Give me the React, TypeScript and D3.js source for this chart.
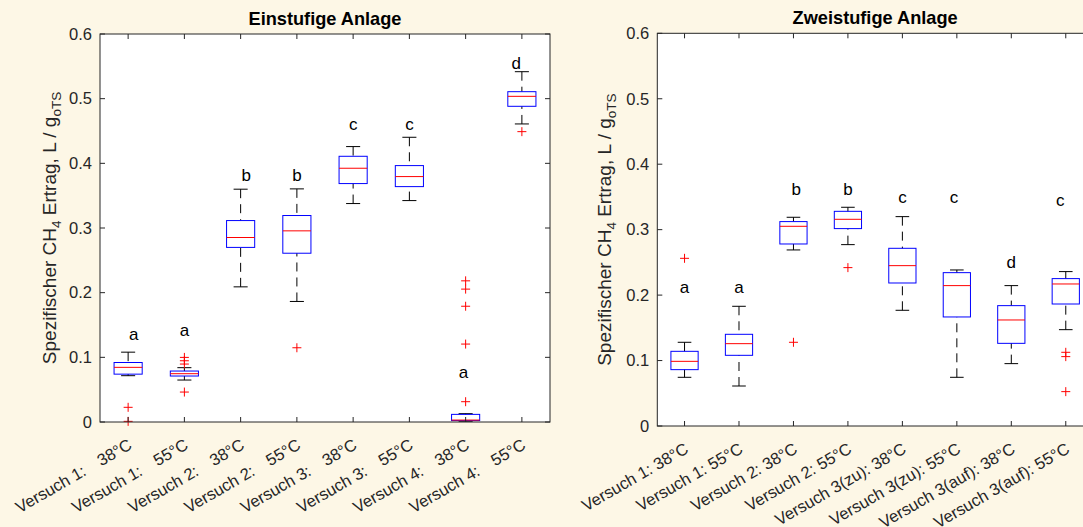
import React from "react";
import * as d3 from "d3";

// ---------- data ----------
const leftNames = ["Versuch 1:", "Versuch 1:", "Versuch 2:", "Versuch 2:", "Versuch 3:", "Versuch 3:", "Versuch 4:", "Versuch 4:"];
const leftTemps = ["38°C", "55°C", "38°C", "55°C", "38°C", "55°C", "38°C", "55°C"];
const leftLowerWhisker = [0.0716, 0.0649, 0.209, 0.1864, 0.3378, 0.3424, 0.0012, 0.4609];
const leftQ1 = [0.074, 0.0711, 0.27, 0.261, 0.3687, 0.364, 0.0022, 0.4882];
const leftMedian = [0.0845, 0.0747, 0.2853, 0.2956, 0.3924, 0.3795, 0.003, 0.5036];
const leftQ3 = [0.092, 0.0788, 0.3115, 0.3193, 0.4109, 0.3965, 0.0118, 0.5108];
const leftUpperWhisker = [0.108, 0.084, 0.36, 0.3605, 0.4259, 0.4403, 0.0129, 0.5417];
const leftOutliers = [[0.0227, 0.001], [0.0999, 0.0947, 0.0896, 0.0463], [], [0.1148], [], [], [0.2183, 0.2055, 0.179, 0.1205, 0.0314], [0.449]];
const leftLetters = ["a", "a", "b", "b", "c", "c", "a", "d"];
const leftLetterY = [0.127, 0.1334, 0.3733, 0.3733, 0.4516, 0.4516, 0.068, 0.5458];
const leftLetterDx = [0.1, 0, 0.1, 0, 0, 0, -0.04, -0.1];

const rightLabels = ["Versuch 1: 38°C", "Versuch 1: 55°C", "Versuch 2: 38°C", "Versuch 2: 55°C", "Versuch 3(zu): 38°C", "Versuch 3(zu): 55°C", "Versuch 3(auf): 38°C", "Versuch 3(auf): 55°C"];
const rightLowerWhisker = [0.0744, 0.0611, 0.269, 0.2771, 0.1768, 0.0744, 0.0953, 0.1472];
const rightQ1 = [0.0861, 0.108, 0.2781, 0.3016, 0.2185, 0.1666, 0.1263, 0.1864];
const rightMedian = [0.0988, 0.1258, 0.3051, 0.3158, 0.245, 0.2145, 0.162, 0.217];
const rightQ3 = [0.1141, 0.1401, 0.3123, 0.328, 0.2715, 0.2343, 0.1839, 0.2252];
const rightUpperWhisker = [0.1279, 0.1829, 0.3189, 0.3342, 0.3199, 0.2384, 0.2145, 0.2359];
const rightOutliers = [[0.2562], [], [0.1279], [0.242], [], [], [], [0.1126, 0.106, 0.0525]];
const rightLetters = ["a", "a", "b", "b", "c", "c", "d", "c"];
const rightLetterY = [0.2038, 0.2038, 0.3535, 0.3535, 0.3403, 0.3403, 0.241, 0.3367];
const rightLetterDx = [0, 0, 0.05, 0, 0, -0.05, 0, -0.1];

const yTicks = [0, 0.1, 0.2, 0.3, 0.4, 0.5, 0.6];
const titles = ["Einstufige Anlage", "Zweistufige Anlage"];

// ---------- style ----------
const W = 1083;
const H = 527;
const BG = "#FDF7E6";
const AX = "#262626";
const FONT = "'Liberation Sans', Arial, Helvetica, sans-serif";
const TICK_FS = 16.5;
const LABEL_FS = 18.2;
const YLABEL_FS = 19;

type PanelProps = {
  x0: number; x1: number; yTop: number; yBottom: number;
  lw: number[]; q1: number[]; med: number[]; q3: number[]; uw: number[]; out: number[][];
  letters: string[]; letterY: number[]; letterDx: number[];
  title: string;
  ylabelX: number;
  renderXLabel: (i: number, x: number, y: number) => React.ReactNode;
};

function Panel(p: PanelProps) {
  const n = p.med.length;
  const x = d3.scaleLinear().domain([0.5, n + 0.5]).range([p.x0, p.x1]);
  const y = d3.scaleLinear().domain([0, 0.6]).range([p.yBottom, p.yTop]);
  const step = x(2) - x(1);
  const boxW = step * 0.5;
  const capW = boxW * 0.5;
  const tl = 5;
  const cy = (p.yTop + p.yBottom) / 2;
  const idx = d3.range(n);
  return (
    <g>
      <rect x={p.x0} y={p.yTop} width={p.x1 - p.x0} height={p.yBottom - p.yTop} fill="#ffffff" />
      {/* boxes */}
      {idx.map((i) => {
        const cx = x(i + 1);
        return (
          <g key={"b" + i}>
            <line x1={cx} x2={cx} y1={y(p.uw[i])} y2={y(p.q3[i])} stroke="#000" strokeDasharray="9,6" />
            <line x1={cx} x2={cx} y1={y(p.lw[i])} y2={y(p.q1[i])} stroke="#000" strokeDasharray="9,6" />
            <line x1={cx - capW / 2} x2={cx + capW / 2} y1={y(p.uw[i])} y2={y(p.uw[i])} stroke="#000" />
            <line x1={cx - capW / 2} x2={cx + capW / 2} y1={y(p.lw[i])} y2={y(p.lw[i])} stroke="#000" />
            <rect x={cx - boxW / 2} y={y(p.q3[i])} width={boxW} height={Math.max(0.5, y(p.q1[i]) - y(p.q3[i]))} fill="none" stroke="#0000FF" />
            <line x1={cx - boxW / 2} x2={cx + boxW / 2} y1={y(p.med[i])} y2={y(p.med[i])} stroke="#FF0000" />
            {p.out[i].map((v, j) => (
              <g key={j} stroke="#FF0000">
                <line x1={cx - 4.5} x2={cx + 4.5} y1={y(v)} y2={y(v)} />
                <line x1={cx} x2={cx} y1={y(v) - 4.5} y2={y(v) + 4.5} />
              </g>
            ))}
            <text x={x(i + 1 + p.letterDx[i])} y={y(p.letterY[i])} textAnchor="middle" fontSize={17} fill="#000">
              {p.letters[i]}
            </text>
          </g>
        );
      })}
      {/* frame */}
      <rect x={p.x0} y={p.yTop} width={p.x1 - p.x0} height={p.yBottom - p.yTop} fill="none" stroke={AX} strokeWidth={1} />
      {/* y ticks */}
      {yTicks.map((t) => (
        <g key={"y" + t}>
          <line x1={p.x0} x2={p.x0 + tl} y1={y(t)} y2={y(t)} stroke={AX} />
          <line x1={p.x1} x2={p.x1 - tl} y1={y(t)} y2={y(t)} stroke={AX} />
          <text x={p.x0 - 8} y={y(t)} dy="0.35em" textAnchor="end" fontSize={TICK_FS} fill={AX}>
            {String(t)}
          </text>
        </g>
      ))}
      {/* x ticks */}
      {idx.map((i) => (
        <g key={"x" + i}>
          <line x1={x(i + 1)} x2={x(i + 1)} y1={p.yBottom} y2={p.yBottom - tl} stroke={AX} />
          <line x1={x(i + 1)} x2={x(i + 1)} y1={p.yTop} y2={p.yTop + tl} stroke={AX} />
          {p.renderXLabel(i, x(i + 1) + 5, p.yBottom + 26)}
        </g>
      ))}
      {/* title */}
      <text x={(p.x0 + p.x1) / 2} y={p.yTop - 9} textAnchor="middle" fontSize={LABEL_FS} fontWeight="bold" fill="#000">
        {p.title}
      </text>
      {/* y label */}
      <text transform={`translate(${p.ylabelX},${cy}) rotate(-90)`} textAnchor="middle" fontSize={YLABEL_FS} fill={AX}>
        Spezifischer CH<tspan fontSize={13.5} dy="5">4</tspan>
        <tspan dy="-5"> Ertrag, L / g</tspan>
        <tspan fontSize={13.5} dy="5">oTS</tspan>
      </text>
    </g>
  );
}

export default function App() {
  return (
    <svg width={W} height={H} style={{ position: "absolute", left: 0, top: 0, display: "block", fontFamily: FONT }}>
      <rect x={0} y={0} width={W} height={H} fill={BG} />
      <Panel
        x0={100} x1={550} yTop={34} yBottom={422}
        lw={leftLowerWhisker} q1={leftQ1} med={leftMedian} q3={leftQ3} uw={leftUpperWhisker} out={leftOutliers}
        letters={leftLetters} letterY={leftLetterY} letterDx={leftLetterDx}
        title={titles[0]} ylabelX={56}
        renderXLabel={(i, px, py) => (
          <text transform={`translate(${px},${py}) rotate(-30)`} textAnchor="end" fontSize={TICK_FS} fill={AX}>
            {leftNames[i]}
            <tspan dx={16}>{leftTemps[i]}</tspan>
          </text>
        )}
      />
      <Panel
        x0={657.3} x1={1093} yTop={33.3} yBottom={426}
        lw={rightLowerWhisker} q1={rightQ1} med={rightMedian} q3={rightQ3} uw={rightUpperWhisker} out={rightOutliers}
        letters={rightLetters} letterY={rightLetterY} letterDx={rightLetterDx}
        title={titles[1]} ylabelX={611}
        renderXLabel={(i, px, py) => (
          <text transform={`translate(${px},${py}) rotate(-30)`} textAnchor="end" fontSize={TICK_FS} fill={AX}>
            {rightLabels[i]}
          </text>
        )}
      />
    </svg>
  );
}
